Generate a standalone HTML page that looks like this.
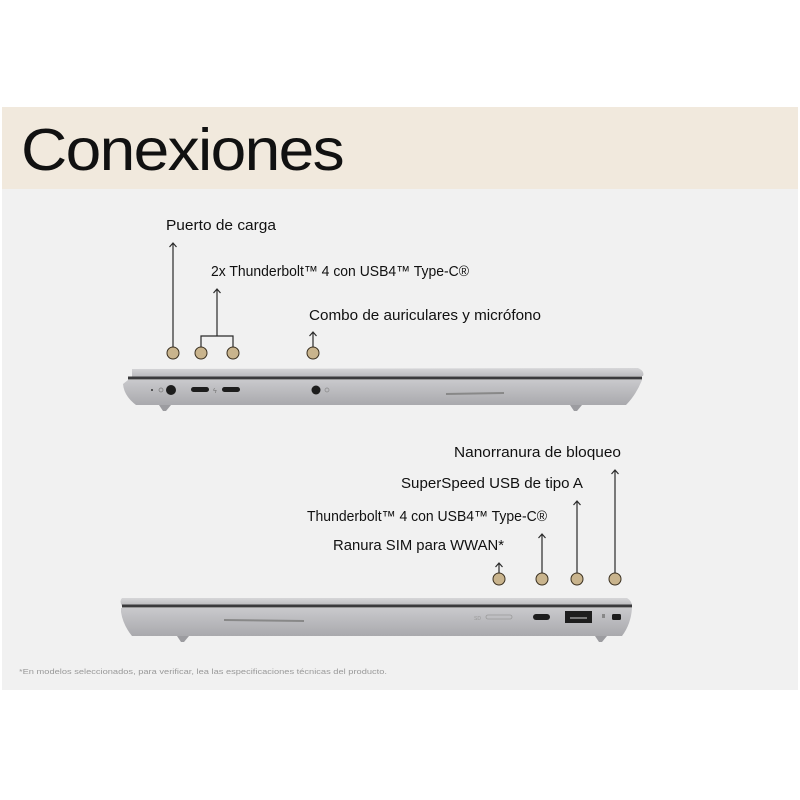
<!DOCTYPE html>
<html><head><meta charset="utf-8"><style>
html,body{margin:0;padding:0;background:#fff;width:800px;height:800px;overflow:hidden}
svg{display:block}
text{font-family:"Liberation Sans",sans-serif;fill:#111}
</style></head><body>
<svg width="800" height="800" viewBox="0 0 800 800" xmlns="http://www.w3.org/2000/svg">
<defs>
<marker id="ah" viewBox="0 0 10 10" refX="5" refY="1" markerWidth="7" markerHeight="7" orient="auto-start-reverse"></marker>
<linearGradient id="lid" x1="0" y1="0" x2="0" y2="1"><stop offset="0" stop-color="#d6d6d8"/><stop offset="1" stop-color="#b9b9bc"/></linearGradient>
<linearGradient id="body" x1="0" y1="0" x2="0" y2="1"><stop offset="0" stop-color="#c9c9cc"/><stop offset="1" stop-color="#a9a9ad"/></linearGradient>
</defs>
<rect x="2" y="107" width="796" height="82" fill="#f1e9dd"/>
<rect x="2" y="189" width="796" height="501" fill="#f1f1f1"/>
<text x="21" y="170" font-size="59" letter-spacing="-1.5" textLength="322" lengthAdjust="spacingAndGlyphs">Conexiones</text>

<!-- laptop 1 -->
<g>
<path d="M132 369 L638 368 Q645 371 643 376 L132 377 Z" fill="url(#lid)"/>
<rect x="128" y="376.5" width="514" height="3" fill="#3a3a3c"/>
<path d="M128 380 L642 380 Q636 395 626 405 L136 405 Q124 396 123 384 Z" fill="url(#body)"/>
<path d="M159 405 L171 405 L166 411 L163 411 Z" fill="#9c9ca0"/>
<path d="M570 405 L582 405 L577 411 L574 411 Z" fill="#9c9ca0"/>
<circle cx="152" cy="390" r="1" fill="#333"/>
<circle cx="161" cy="390" r="2" fill="none" stroke="#777" stroke-width="0.7"/>
<circle cx="171" cy="390" r="5" fill="#1d1d1d"/>
<rect x="191" y="387" width="18" height="5" rx="2.5" fill="#1d1d1d"/>
<text x="213" y="393" font-size="7" fill="#666" style="fill:#777">ϟ</text>
<rect x="222" y="387" width="18" height="5" rx="2.5" fill="#1d1d1d"/>
<circle cx="316" cy="390" r="4.5" fill="#1d1d1d"/>
<circle cx="327" cy="390" r="2" fill="none" stroke="#888" stroke-width="0.7"/>
<path d="M446 394 L504 393" stroke="#888" stroke-width="2"/>
</g>

<!-- laptop 2 -->
<g>
<path d="M122 598 L627 598 Q632 601 632 606 L122 606 Q119 601 122 598 Z" fill="url(#lid)"/>
<rect x="122" y="604.5" width="510" height="3" fill="#3a3a3c"/>
<path d="M121 608 L632 608 Q631 624 622 636 L132 636 Q123 625 121 612 Z" fill="url(#body)"/>
<path d="M177 636 L189 636 L184 642 L181 642 Z" fill="#9c9ca0"/>
<path d="M595 636 L607 636 L602 642 L599 642 Z" fill="#9c9ca0"/>
<path d="M224 620 L304 621" stroke="#888" stroke-width="2"/>
<text x="474" y="620" font-size="5" style="fill:#999">SD</text>
<rect x="486" y="615" width="26" height="4" rx="2" fill="none" stroke="#999" stroke-width="0.8"/>
<rect x="533" y="614" width="17" height="6" rx="3" fill="#1d1d1d"/>
<rect x="565" y="611" width="27" height="12" fill="#1d1d1d"/>
<rect x="570" y="617" width="17" height="2" fill="#777"/>
<rect x="602" y="614" width="3" height="4" fill="#888"/>
<rect x="612" y="614" width="9" height="6" rx="1.5" fill="#1d1d1d"/>
</g>

<!-- connectors -->
<g stroke="#2a2a2a" stroke-width="1.2" fill="none">
<path d="M173 347 V243 M169.5 247 L173 243 L176.5 247"/>
<path d="M201 347 V336 H233 V347 M217 336 V289 M213.5 293 L217 289 L220.5 293"/>
<path d="M313 347 V332 M309.5 336 L313 332 L316.5 336"/>
<path d="M499 573 V563 M495.5 567 L499 563 L502.5 567"/>
<path d="M542 573 V534 M538.5 538 L542 534 L545.5 538"/>
<path d="M577 573 V501 M573.5 505 L577 501 L580.5 505"/>
<path d="M615 573 V470 M611.5 474 L615 470 L618.5 474"/>
</g>
<g fill="#c9b48d" stroke="#3a3020" stroke-width="1">
<circle cx="173" cy="353" r="6"/><circle cx="201" cy="353" r="6"/><circle cx="233" cy="353" r="6"/><circle cx="313" cy="353" r="6"/>
<circle cx="499" cy="579" r="6"/><circle cx="542" cy="579" r="6"/><circle cx="577" cy="579" r="6"/><circle cx="615" cy="579" r="6"/>
</g>

<g font-size="14.5">
<text x="166" y="230" textLength="110" lengthAdjust="spacingAndGlyphs">Puerto de carga</text>
<text x="211" y="276" textLength="258" lengthAdjust="spacingAndGlyphs">2x Thunderbolt™ 4 con USB4™ Type-C®</text>
<text x="309" y="320" textLength="232" lengthAdjust="spacingAndGlyphs">Combo de auriculares y micrófono</text>
<text x="454" y="457" textLength="167" lengthAdjust="spacingAndGlyphs">Nanorranura de bloqueo</text>
<text x="401" y="488" textLength="182" lengthAdjust="spacingAndGlyphs">SuperSpeed USB de tipo A</text>
<text x="307" y="521" textLength="240" lengthAdjust="spacingAndGlyphs">Thunderbolt™ 4 con USB4™ Type-C®</text>
<text x="333" y="550" textLength="171" lengthAdjust="spacingAndGlyphs">Ranura SIM para WWAN*</text>
</g>
<text x="19" y="674" font-size="7.5" style="fill:#999" textLength="368" lengthAdjust="spacingAndGlyphs">*En modelos seleccionados, para verificar, lea las especificaciones técnicas del producto.</text>
</svg>
</body></html>
